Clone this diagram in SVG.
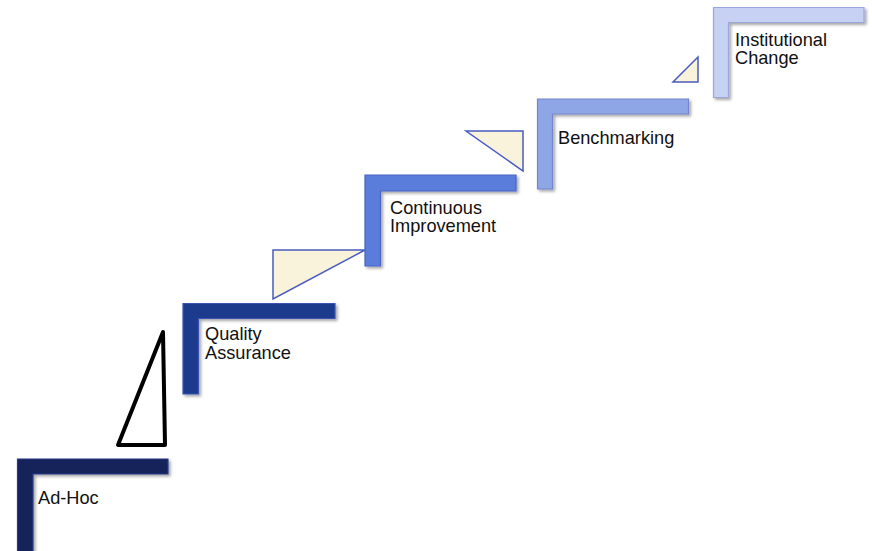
<svg xmlns="http://www.w3.org/2000/svg" width="872" height="551" viewBox="0 0 872 551">
<defs>
<filter id="sh" x="-10%" y="-10%" width="130%" height="130%">
<feGaussianBlur in="SourceAlpha" stdDeviation="1.5"/>
<feOffset dx="1.5" dy="2" result="b"/>
<feComponentTransfer><feFuncA type="linear" slope="0.35"/></feComponentTransfer>
<feMerge><feMergeNode/><feMergeNode in="SourceGraphic"/></feMerge>
</filter>
</defs>
<style>
.step{stroke-width:1.2;filter:url(#sh)}
.s1{fill:#13235a;stroke:#2a3b86}
.s2{fill:#1f3a8c;stroke:#3a52b4}
.s3{fill:#5a7ddc;stroke:#4a62c4}
.s4{fill:#8fa6e6;stroke:#7385cc}
.s5{fill:#c6d1f3;stroke:#9ba7da}
.tri{fill:#faf3dc;stroke:#4a5cc0;stroke-width:1.5;stroke-linejoin:miter}
.lbl{font-family:"Liberation Sans",Arial,sans-serif;font-size:18.2px;fill:#111}
</style>
<rect width="872" height="551" fill="#fff"/>
<g id="connectors">
<polygon points="163,332 118,445 165,445" fill="#fff" stroke="#000" stroke-width="4" stroke-linejoin="round"/>
<polygon class="tri" points="273,250 365,250 273,299"/>
<polygon class="tri" points="466,131 523,131 523,171"/>
<polygon class="tri" points="673,82 698,82 698,57"/>
</g>
<g id="step-adhoc">
<path class="step s1" d="M17.5,459 H168 V474 H33 V552 H17.5 Z"/>
<text class="lbl" x="38" y="504">Ad-Hoc</text>
</g>
<g id="step-quality">
<path class="step s2" d="M183,303.5 H335 V318.5 H198.5 V394 H183 Z"/>
<text class="lbl" x="205" y="340">Quality</text>
<text class="lbl" x="205" y="358.5">Assurance</text>
</g>
<g id="step-continuous">
<path class="step s3" d="M365,175 H516 V191 H380.5 V266 H365 Z"/>
<text class="lbl" x="390" y="213.5">Continuous</text>
<text class="lbl" x="390" y="232">Improvement</text>
</g>
<g id="step-benchmarking">
<path class="step s4" d="M537.5,99 H688.5 V114 H552.5 V189 H537.5 Z"/>
<text class="lbl" x="558" y="143.5">Benchmarking</text>
</g>
<g id="step-institutional">
<path class="step s5" d="M713.5,7.5 H864 V22.5 H728.5 V97.5 H713.5 Z"/>
<text class="lbl" x="735" y="45.5">Institutional</text>
<text class="lbl" x="735" y="64">Change</text>
</g>
</svg>
